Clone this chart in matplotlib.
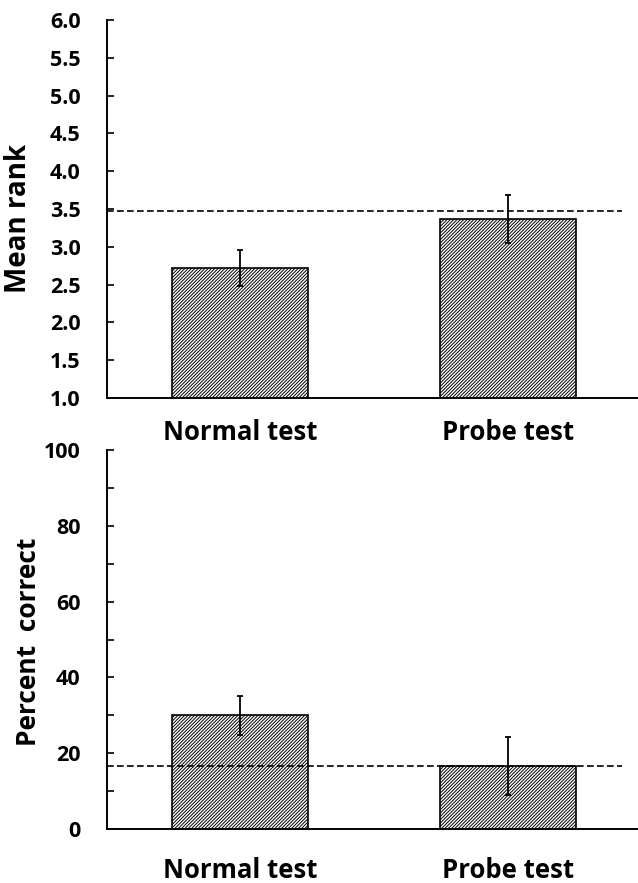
import matplotlib.pyplot as plt

plt.rcParams['font.family'] = ['Open Sans', 'DejaVu Sans']
plt.rcParams['font.weight'] = 'bold'
plt.rcParams['hatch.linewidth'] = 0.7

# data
conditions = ['Normal test', 'Probe test']
rank_mean = [2.72, 3.37]
rank_err = [0.24, 0.32]
rank_chance = 3.47
pct_mean = [30.0, 16.6]
pct_err = [5.2, 7.6]
pct_chance = 16.7

fig = plt.figure(figsize=(6.38, 8.83), dpi=100)
ax1 = fig.add_axes([0.1677, 0.5493, 0.831, 0.428])
ax2 = fig.add_axes([0.1677, 0.0612, 0.831, 0.429])

x = [0, 1]


def draw_panel(ax, means, errs, chance):
    ax.bar(x, means, width=0.507, color='white', edgecolor='black',
           hatch='//////////', linewidth=1.2, zorder=2)
    ax.errorbar(x, means, yerr=errs, fmt='none', ecolor='black',
                elinewidth=1.3, capsize=2.5, capthick=1.3, zorder=3)
    ax.plot([-0.496, 1.425], [chance, chance], color='black',
            linestyle=(0, (4, 2)), linewidth=1.2, zorder=4)
    ax.set_xlim(-0.496, 1.481)
    for side in ['top', 'right']:
        ax.spines[side].set_visible(False)
    for side in ['left', 'bottom']:
        ax.spines[side].set_linewidth(1.4)
    ax.set_xticks(x)
    ax.set_xticklabels(conditions, fontsize=18.5, fontweight='bold')
    ax.tick_params(axis='x', direction='in', length=6, width=1.2)
    ax.tick_params(axis='y', direction='in', length=5, width=1.2,
                   labelsize=15.5, pad=19)
    ax.tick_params(axis='y', which='minor', direction='in', length=5, width=1.2)


draw_panel(ax1, rank_mean, rank_err, rank_chance)
ax1.set_ylim(1.0, 6.0)
ax1.set_yticks([1.0 + 0.5 * i for i in range(11)])
ax1.set_yticklabels(['%.1f' % (1.0 + 0.5 * i) for i in range(11)],
                    fontweight='bold')
ax1.tick_params(axis='x', pad=15)
ax1.set_ylabel('Mean rank', fontsize=20, fontweight='bold')
ax1.yaxis.set_label_coords(-0.140, 0.476)

draw_panel(ax2, pct_mean, pct_err, pct_chance)
ax2.set_ylim(0, 100)
ax2.set_yticks(range(0, 101, 20))
ax2.set_yticklabels([str(v) for v in range(0, 101, 20)], fontweight='bold')
ax2.set_yticks(range(10, 100, 20), minor=True)
ax2.tick_params(axis='x', pad=20)
ax2.set_ylabel('Percent  correct', fontsize=19, fontweight='bold')
ax2.yaxis.set_label_coords(-0.1226, 0.493)

fig.savefig('out.png', dpi=100)
